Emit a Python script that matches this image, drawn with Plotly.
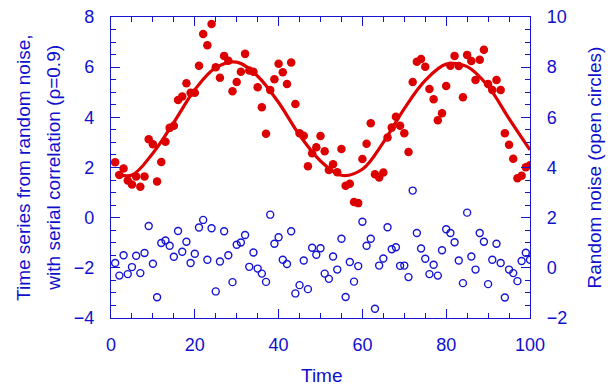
import plotly.graph_objects as go

time = list(range(1, 101))

series_red = [2.21, 1.70, 1.96, 1.48, 1.32, 1.64, 1.23, 1.64, 3.13, 2.93,
              1.44, 2.22, 3.03, 3.58, 3.66, 4.69, 4.83, 5.36, 4.98, 4.98,
              6.06, 7.32, 6.87, 7.72, 6.00, 5.58, 6.45, 6.26, 5.04, 5.41,
              5.82, 6.53, 5.87, 5.82, 5.20, 4.40, 3.35, 5.09, 5.52, 6.14,
              5.80, 5.33, 6.19, 4.53, 3.37, 3.27, 2.05, 2.57, 2.81, 3.26,
              2.65, 1.90, 2.13, 1.81, 2.74, 1.27, 1.35, 0.62, 0.58, 2.34,
              2.95, 3.76, 1.73, 1.60, 1.80, 3.20, 3.59, 4.02, 3.66, 3.37,
              2.62, 5.41, 6.22, 6.33, 6.02, 5.13, 4.72, 3.88, 4.16, 5.25,
              6.06, 6.45, 6.05, 4.80, 6.49, 6.25, 5.49, 6.30, 6.69, 5.33,
              5.09, 5.49, 5.09, 3.37, 2.91, 2.35, 1.57, 1.67, 2.01, 2.09]

noise_blue = [0.19, -0.31, 0.50, -0.25, 0.03, 0.48, -0.21, 0.59, 1.67, 0.16,
              -1.17, 0.99, 1.09, 0.88, 0.44, 1.47, 0.64, 1.04, 0.19, 0.56,
              1.61, 1.91, 0.32, 1.58, -0.94, 0.25, 1.46, 0.50, -0.57, 0.92,
              1.01, 1.31, 0.04, 0.61, -0.03, -0.23, -0.56, 2.12, 0.96, 1.22,
              0.32, 0.15, 1.46, -1.02, -0.69, 0.29, -0.85, 0.80, 0.52, 0.78,
              -0.23, -0.44, 0.45, -0.07, 1.16, -1.16, 0.23, -0.55, 0.07, 1.84,
              0.88, 1.16, -1.63, 0.09, 0.37, 1.62, 0.74, 0.82, 0.08, 0.09,
              -0.37, 3.08, 1.39, 0.77, 0.36, -0.25, 0.12, -0.31, 0.70, 1.54,
              1.39, 1.02, 0.29, -0.61, 2.20, 0.45, -0.07, 1.39, 1.04, -0.65,
              0.32, 0.96, 0.19, -1.18, -0.07, -0.21, -0.53, 0.27, 0.60, 0.32]

curve_x = [1, 5, 10, 15, 20, 25, 30, 35, 40, 45, 50, 55, 60, 65, 70, 75, 80, 85, 90, 95, 100]
curve_y = [1.75, 1.70, 2.57, 3.80, 5.10, 5.98, 6.20, 5.64, 4.59, 3.29, 2.26, 1.69, 1.93,
           3.00, 4.35, 5.47, 6.12, 6.02, 5.24, 3.95, 2.70]

RED = "#DD0000"
BLUE = "#1414D2"
TXT = "#1010CC"
FONT = "Liberation Sans, Arial, sans-serif"

fig = go.Figure()
fig.add_trace(go.Scatter(x=curve_x, y=curve_y, mode="lines",
                         line=dict(color=RED, width=3.2, shape="spline", smoothing=1.0),
                         hoverinfo="skip", showlegend=False))
fig.add_trace(go.Scatter(x=time, y=series_red, mode="markers",
                         marker=dict(color=RED, size=8.5, line=dict(width=0)),
                         showlegend=False))
fig.add_trace(go.Scatter(x=time, y=noise_blue, mode="markers", yaxis="y2",
                         marker=dict(symbol="circle-open", color=BLUE, size=7,
                                     line=dict(width=1.4, color=BLUE)),
                         showlegend=False))

axis_common = dict(showgrid=False, zeroline=False, showline=True, linecolor=BLUE,
                   linewidth=1.2, ticks="inside", tickcolor=BLUE, tickwidth=1.2,
                   ticklen=9, automargin=False,
                   tickfont=dict(family=FONT, size=18, color=TXT))

fig.update_layout(
    width=613, height=386,
    margin=dict(l=111, r=83, t=17, b=68, autoexpand=False),
    paper_bgcolor="white", plot_bgcolor="white",
    font=dict(family=FONT, color=TXT),
    xaxis=dict(range=[0, 100], dtick=20, tick0=0, mirror="ticks",
               ticklabelstandoff=10,
               minor=dict(dtick=5, ticks="inside", ticklen=5, tickcolor=BLUE, tickwidth=1),
               **axis_common),
    yaxis=dict(range=[-4, 8], dtick=2, tick0=0, ticklabelstandoff=12,
               minor=dict(dtick=0.5, ticks="inside", ticklen=5, tickcolor=BLUE, tickwidth=1),
               **axis_common),
    yaxis2=dict(range=[-2, 10], dtick=2, tick0=0, overlaying="y", side="right",
                ticklabelstandoff=12,
                minor=dict(dtick=0.5, ticks="inside", ticklen=5, tickcolor=BLUE, tickwidth=1),
                **axis_common),
    annotations=[
        dict(text="Time series from random noise,", xref="paper", yref="paper",
             x=-0.209, y=0.5, textangle=-90, showarrow=False,
             font=dict(family=FONT, size=19, color=TXT), xanchor="center", yanchor="middle"),
        dict(text="with serial correlation (ρ=0.9)", xref="paper", yref="paper",
             x=-0.138, y=0.5, textangle=-90, showarrow=False,
             font=dict(family=FONT, size=19, color=TXT), xanchor="center", yanchor="middle"),
        dict(text="Random noise (open circles)", xref="paper", yref="paper",
             x=1.155, y=0.5, textangle=-90, showarrow=False,
             font=dict(family=FONT, size=19, color=TXT), xanchor="center", yanchor="middle"),
        dict(text="Time", xref="paper", yref="paper",
             x=0.503, y=-0.19, showarrow=False,
             font=dict(family=FONT, size=19, color=TXT), xanchor="center", yanchor="middle"),
    ],
)

fig.write_html("out.html", config={"displayModeBar": False},
               post_script="document.body.style.margin='0';document.body.style.overflow='hidden';")
